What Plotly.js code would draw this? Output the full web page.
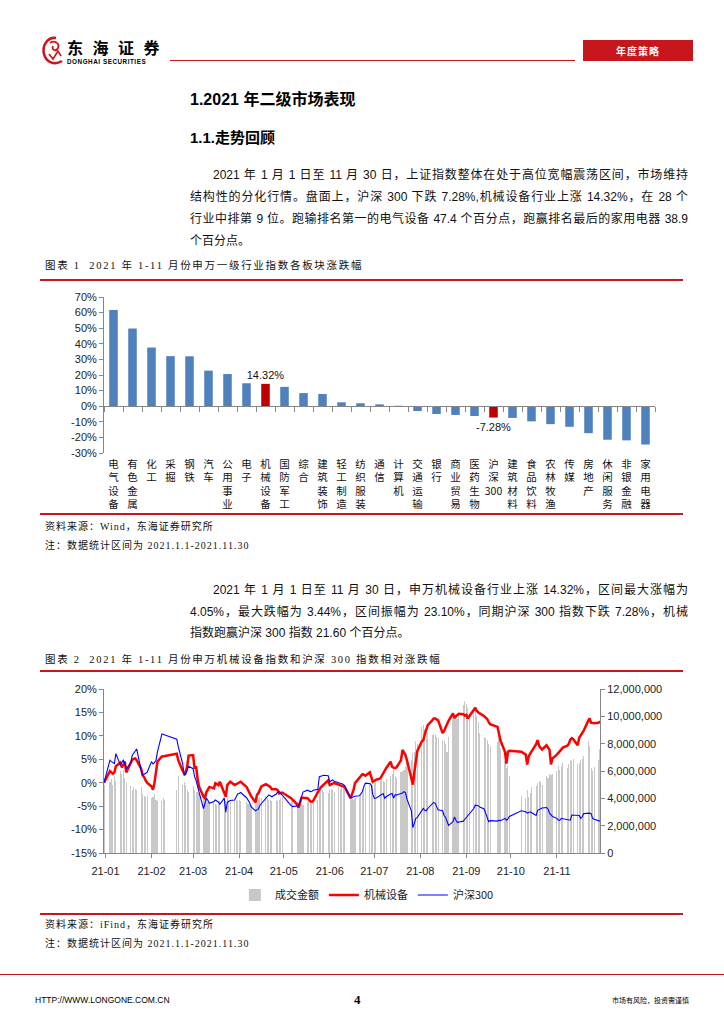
<!DOCTYPE html>
<html><head><meta charset="utf-8">
<script src="https://cdn.plot.ly/plotly-3.0.1.min.js"></script>
<style>
html,body{margin:0;padding:0;background:#fff;}
#page{position:relative;width:724px;height:1024px;overflow:hidden;font-family:"Liberation Sans","Noto Sans CJK SC",sans-serif;color:#000;}
.abs{position:absolute;white-space:nowrap;}
.rl{position:absolute;background:#c8161d;}
.p{position:absolute;left:190px;width:498px;font-size:12px;line-height:22px;height:22px;text-align:justify;text-align-last:justify;color:#111;}
.p.ind{left:213px;width:475px;}
.p.last{text-align-last:left;}
.cap{font-family:"Liberation Serif","Noto Sans CJK SC",serif;font-size:10.5px;letter-spacing:1.7px;line-height:14px;color:#111;}
.src{font-family:"Liberation Serif","Noto Sans CJK SC",serif;font-size:10px;letter-spacing:1px;line-height:14px;color:#111;}
</style></head>
<body>
<div id="page">
  <!-- header -->
  <svg class="abs" style="left:41px;top:35px" width="26" height="32" viewBox="0 0 26 32">
    <path d="M15 3 C6 2 1 11 3 19 C5 27 13 31 21 26" stroke="#c8161d" stroke-width="2.6" fill="none"/>
    <path d="M9 8 C13 5 19 8 17 13 C15 17 10 15 12 11" stroke="#c8161d" stroke-width="1.8" fill="none"/>
    <path d="M8 19 L12 24 L17 16 L20 21" stroke="#c8161d" stroke-width="1.6" fill="none"/>
  </svg>
  <div class="abs" style="left:67px;top:38px;font-family:'Noto Sans CJK SC';font-weight:bold;font-size:16px;letter-spacing:9.5px;line-height:18px;">东海证券</div>
  <div class="abs" style="left:67px;top:57.5px;font-weight:bold;font-size:6.3px;letter-spacing:0.55px;line-height:7px;">DONGHAI SECURITIES</div>
  <div class="rl" style="left:170px;top:60px;width:405px;height:1px;"></div>
  <div class="abs" style="left:583px;top:40px;width:110px;height:21px;background:#c8161d;color:#fff;text-align:center;font-family:'Noto Sans CJK SC';font-weight:bold;font-size:10px;line-height:21px;letter-spacing:1px;">年度策略</div>

  <div class="abs" style="left:190px;top:89px;font-weight:bold;font-size:16px;line-height:22px;">1.2021 年二级市场表现</div>
  <div class="abs" style="left:190px;top:127px;font-weight:bold;font-size:15px;line-height:22px;">1.1.走势回顾</div>

  <div class="p ind" style="top:164px;">2021 年 1 月 1 日至 11 月 30 日，上证指数整体在处于高位宽幅震荡区间，市场维持</div>
  <div class="p" style="top:186px;">结构性的分化行情。盘面上，沪深 300 下跌 7.28%,机械设备行业上涨 14.32%，在 28 个</div>
  <div class="p" style="top:208px;">行业中排第 9 位。跑输排名第一的电气设备 47.4 个百分点，跑赢排名最后的家用电器 38.9</div>
  <div class="p last" style="top:230px;">个百分点。</div>

  <div class="abs cap" style="left:45px;top:259px;">图表 1&nbsp; 2021 年 1-11 月份申万一级行业指数各板块涨跌幅</div>
  <div class="rl" style="left:40px;top:279px;width:643px;height:2px;"></div>
  <div id="chart1" class="abs" style="left:0;top:285px;width:724px;height:240px;"></div>
  <div class="rl" style="left:40px;top:513px;width:643px;height:2px;"></div>
  <div class="abs src" style="left:45px;top:520px;">资料来源：Wind，东海证券研究所</div>
  <div class="abs src" style="left:45px;top:539px;">注：数据统计区间为 2021.1.1-2021.11.30</div>

  <div class="p ind" style="top:579px;">2021 年 1 月 1 日至 11 月 30 日，申万机械设备行业上涨 14.32%，区间最大涨幅为</div>
  <div class="p" style="top:601px;">4.05%，最大跌幅为 3.44%，区间振幅为 23.10%，同期沪深 300 指数下跌 7.28%，机械</div>
  <div class="p last" style="top:622px;">指数跑赢沪深 300 指数 21.60 个百分点。</div>

  <div class="abs cap" style="left:45px;top:653px;">图表 2&nbsp; 2021 年 1-11 月份申万机械设备指数和沪深 300 指数相对涨跌幅</div>
  <div class="rl" style="left:40px;top:670px;width:643px;height:2px;"></div>
  <div id="chart2" class="abs" style="left:0;top:675px;width:724px;height:235px;"></div>
  <div class="rl" style="left:40px;top:913px;width:643px;height:2px;"></div>
  <div class="abs src" style="left:45px;top:918px;">资料来源：iFind，东海证券研究所</div>
  <div class="abs src" style="left:45px;top:937px;">注：数据统计区间为 2021.1.1-2021.11.30</div>

  <div class="rl" style="left:0;top:974px;width:724px;height:1px;"></div>
  <div class="abs" style="left:35px;top:994px;font-size:8.5px;line-height:12px;">HTTP://WWW.LONGONE.COM.CN</div>
  <div class="abs" style="left:354px;top:992px;font-family:'Liberation Serif';font-weight:bold;font-size:13px;line-height:16px;">4</div>
  <div class="abs" style="left:612px;top:995px;font-family:'Noto Sans CJK SC';font-size:7px;line-height:10px;">市场有风险，投资需谨慎</div>
</div>
<script>
// ---------- Chart 1 data ----------
const industries = ['电气设备','有色金属','化工','采掘','钢铁','汽车','公用事业','电子','机械设备','国防军工','综合','建筑装饰','轻工制造','纺织服装','通信','计算机','交通运输','银行','商业贸易','医药生物','沪深300','建筑材料','食品饮料','农林牧渔','传媒','房地产','休闲服务','非银金融','家用电器'];
const industryChange = [61.72,49.8,37.6,32.1,32.0,22.8,20.6,14.7,14.32,12.4,8.4,7.8,2.5,1.9,1.2,0.3,-3.1,-5.0,-5.6,-6.3,-7.28,-7.5,-9.7,-11.5,-13.2,-17.3,-21.5,-21.9,-24.58];
const highlighted = ['机械设备','沪深300'];
const pctTicks1 = [-30,-20,-10,0,10,20,30,40,50,60,70];

// ---------- Chart 2 data (trading days, 2021) ----------
const start00 = ['2020-12-31']; const mach00 = [0]; const hs00 = [0]; const vol00 = [5.0];
const days01 = [4,5,6,7,8,11,12,13,14,15,18,19,20,21,22,25,26,27,28,29];
const mach01 = [2.5,2.2,1.9,2.2,3.5,4.3,3.3,3.8,4.5,2.2,4.4,4.9,5.1,5.2,4.8,3.0,1.6,1.2,0.5,0.0];
const hs01   = [4.8,4.5,4.3,4.1,6.2,3.8,4.3,4.8,4.2,3.0,4.2,5.8,6.3,6.8,7.2,2.7,1.6,1.8,2.0,2.2];
const vol01  = [5.2,5.4,5.0,5.6,5.3,6.0,5.8,6.1,5.5,5.2,4.9,4.6,4.8,4.7,4.6,4.8,4.3,4.2,4.1,4.2];
const days02 = [1,2,3,4,5,8,9,10,18,19,22,23,24,25,26];
const mach02 = [-0.8,-1.5,0.0,2.0,4.5,5.6,5.6,5.7,6.2,4.8,2.5,2.0,2.2,3.5,5.8];
const hs02   = [4.5,4.0,4.3,4.8,6.6,10.4,10.3,10.2,9.3,7.7,4.0,1.6,1.8,2.7,3.5];
const vol02  = [4.0,4.1,4.3,3.9,3.8,3.8,4.0,3.9,4.6,5.6,5.0,5.2,5.0,4.6,4.5];
const days03 = [1,2,3,4,5,8,9,10,11,12,15,16,17,18,19,22,23,24,25,26,29,30,31];
const mach03 = [5.9,3.0,3.5,0.9,-0.8,-3.0,-3.3,-2.0,-1.5,-0.9,-1.2,-0.1,-0.3,-0.5,0.2,-2.3,-3.0,-0.5,-0.2,0.2,-0.5,-0.3,-0.1];
const hs03   = [3.0,1.3,0.5,-0.5,-2.0,-5.5,-4.5,-3.3,-3.8,-4.4,-4.0,-3.7,-3.9,-4.1,-4.6,-3.3,-6.3,-4.2,-4.0,-3.8,-3.7,-3.0,-2.4];
const vol03  = [4.9,4.6,4.5,4.5,4.4,4.3,4.4,3.9,3.7,3.6,3.7,3.6,3.5,3.6,3.8,3.7,3.8,4.0,3.9,3.7,3.8,3.9,3.8];
const days04 = [1,2,6,7,8,9,12,13,14,15,16,19,20,21,22,23,26,27,28,29,30];
const mach04 = [0.1,0.2,-0.9,-1.6,-2.3,-2.8,-4.2,-2.6,-2.2,-1.6,-0.8,-0.3,-0.5,-0.7,-0.9,-1.4,-1.4,-1.6,-2.3,-2.2,-2.1];
const hs04   = [-2.3,-2.1,-3.2,-3.7,-4.2,-5.1,-6.0,-5.8,-5.6,-4.8,-4.4,-3.4,-3.0,-2.6,-2.8,-3.0,-2.4,-2.0,-1.9,-2.3,-2.6];
const vol04  = [3.9,3.8,3.7,3.6,3.6,3.5,3.8,4.0,3.9,4.1,4.0,4.2,4.0,3.9,3.9,3.8,3.9,3.8,3.9,4.0,4.1];
const days05 = [6,7,10,11,12,13,14,17,18,19,20,21,24,25,26,27,28,31];
const mach05 = [-3.3,-3.6,-4.6,-5.3,-4.2,-3.2,-3.2,-3.3,-3.6,-4.0,-4.1,-3.8,-2.0,-1.4,-1.0,-0.7,-0.4,0.5];
const hs05   = [-4.9,-5.1,-5.0,-4.9,-4.1,-3.0,-2.0,-1.6,-1.7,-1.9,-1.8,-1.6,-1.4,1.3,1.4,1.5,1.6,1.5];
const vol05  = [4.0,3.8,3.7,3.6,3.7,3.6,3.5,3.8,3.9,3.7,3.6,3.8,3.9,4.5,4.7,4.6,4.5,4.4];
const days06 = [1,2,3,4,7,8,9,10,11,15,16,17,18,21,22,23,24,25,28,29,30];
const mach06 = [-0.5,-0.3,-0.2,-0.1,-0.4,-0.5,-0.6,-0.7,-0.9,-3.3,-2.6,-1.6,-0.1,1.2,1.6,1.8,1.7,1.5,2.2,1.3,0.2];
const hs06   = [0.2,0.4,0.6,0.3,-0.1,-0.1,-0.2,-0.3,-0.6,-3.2,-3.1,-3.0,-2.9,-2.8,-2.3,-1.9,-0.8,-0.1,-0.2,-0.5,-2.5];
const vol06  = [4.6,4.7,4.6,4.5,4.8,4.7,4.9,4.8,4.6,4.1,4.0,3.9,4.0,4.1,4.3,4.6,4.7,4.8,5.0,4.9,5.0];
const days07 = [1,2,5,6,7,8,9,12,13,14,15,16,19,20,21,22,23,26,27,28,29,30];
const mach07 = [0.4,0.6,0.9,1.5,2.0,2.6,3.1,4.5,3.4,3.2,3.1,3.3,4.8,7.0,6.5,5.9,4.8,0.8,-0.4,2.3,5.2,6.8];
const hs07   = [-3.3,-3.3,-2.7,-2.5,-2.3,-3.3,-3.0,-2.4,-2.3,-3.3,-2.6,-2.6,-2.3,-2.2,-1.9,-2.1,-3.5,-6.0,-9.6,-8.6,-7.6,-7.4];
const vol07  = [5.1,5.2,5.3,5.4,5.3,5.2,5.4,5.6,5.8,6.1,5.6,5.5,5.9,6.0,6.1,6.3,6.6,6.8,7.3,7.4,8.2,8.0];
const days08 = [2,3,4,5,6,9,10,11,12,13,16,17,18,19,20,23,24,25,26,27,30,31];
const mach08 = [8.8,9.1,10.3,11.5,12.3,13.3,13.7,13.7,13.5,13.3,10.6,11.0,11.8,12.5,13.2,14.8,13.8,14.2,14.5,14.7,14.6,14.3];
const hs08   = [-5.8,-5.5,-5.9,-6.0,-5.5,-4.6,-4.2,-4.4,-5.2,-5.8,-6.0,-7.0,-7.4,-8.2,-9.1,-8.3,-7.3,-8.0,-8.5,-8.4,-8.2,-7.8];
const vol08  = [9.2,9.4,9.1,8.9,8.8,8.6,8.7,8.6,8.5,8.4,8.3,8.2,8.0,7.4,8.5,9.9,10.0,10.1,9.8,10.2,10.8,11.1];
const days09 = [1,2,3,6,7,8,9,10,13,14,15,16,17,22,23,24,27,28,29,30];
const mach09 = [14.5,13.7,14.2,15.5,16.0,15.3,15.0,14.8,14.2,13.9,13.6,13.0,12.5,11.9,10.5,9.0,6.6,4.1,6.6,6.8];
const hs09   = [-7.4,-7.0,-6.8,-5.5,-4.8,-4.8,-4.9,-5.2,-5.6,-6.5,-7.5,-8.3,-8.1,-8.2,-8.0,-8.1,-7.6,-8.0,-7.7,-7.2];
const vol09  = [10.9,10.6,10.2,10.3,10.5,10.0,9.6,8.8,8.5,8.4,8.3,8.0,7.8,8.1,8.4,7.6,6.7,6.2,6.4,5.6];
const days10 = [8,11,12,13,14,15,18,19,20,21,22,25,26,27,28,29];
const mach10 = [6.6,6.0,3.9,5.6,6.2,6.7,8.2,9.1,7.9,7.4,7.1,8.0,7.6,7.0,3.9,5.2];
const hs10   = [-6.0,-6.2,-6.5,-6.3,-6.2,-6.4,-7.0,-5.9,-5.7,-5.5,-5.4,-5.3,-5.6,-6.5,-6.9,-7.2];
const vol10  = [4.2,4.0,4.6,4.1,4.4,4.8,4.9,5.1,5.3,5.2,5.0,5.6,5.5,5.8,5.7,5.8];
const days11 = [1,2,3,4,5,8,9,10,11,12,15,16,17,18,19,22,23,24,25,26,29,30];
const mach11 = [6.0,6.4,6.9,7.3,7.5,7.9,8.3,9.2,9.5,9.3,8.0,9.6,10.1,10.7,11.1,13.2,13.7,12.8,12.7,12.7,12.8,13.1];
const hs11   = [-7.6,-8.0,-8.0,-7.6,-7.7,-7.8,-7.9,-8.0,-6.9,-6.9,-6.9,-7.0,-7.6,-7.3,-6.6,-6.5,-6.5,-6.6,-7.6,-7.8,-8.0,-8.2];
const vol11  = [6.0,6.4,6.1,6.4,6.6,6.2,6.5,6.8,6.7,6.9,6.5,6.6,6.8,6.9,7.1,8.2,7.8,6.2,6.0,6.3,6.8,7.6];
const pctTicks2 = [-15,-10,-5,0,5,10,15,20];
const volTicks = [0,2000000,4000000,6000000,8000000,10000000,12000000];

// ---------- assemble ----------
const pad = n => (n < 10 ? '0' : '') + n;
const monthDays = [days01,days02,days03,days04,days05,days06,days07,days08,days09,days10,days11];
const dates = start00.slice();
monthDays.forEach((ds, m) => ds.forEach(d => dates.push('2021-' + pad(m + 1) + '-' + pad(d))));
const mach = mach00.concat(mach01,mach02,mach03,mach04,mach05,mach06,mach07,mach08,mach09,mach10,mach11);
const hs300 = hs00.concat(hs01,hs02,hs03,hs04,hs05,hs06,hs07,hs08,hs09,hs10,hs11);
const volM = vol00.concat(vol01,vol02,vol03,vol04,vol05,vol06,vol07,vol08,vol09,vol10,vol11);
const volume = volM.map(v => v * 1e6);

const FONT = 'Liberation Sans, Noto Sans CJK SC, sans-serif';
const AX = '#868686';
const cfg = {displayModeBar:false, staticPlot:true};

// ---------- Chart 1 ----------
const stacked = industries.map(c => c.match(/[0-9]+|./g).join('<br>'));
const colors1 = industries.map(c => highlighted.includes(c) ? '#c00000' : '#4f81bd');
const labels1 = industries.map((c,i) => highlighted.includes(c) ? industryChange[i].toFixed(2) + '%' : '');
Plotly.newPlot('chart1', [
  {type:'bar', x:industries, y:industryChange, marker:{color:colors1}, width:0.45,
   text:labels1, textposition:'outside', constraintext:'none', cliponaxis:false,
   textfont:{family:FONT, size:11, color:'#111'}, hoverinfo:'skip'},
  {type:'scatter', x:industries, y:industryChange, xaxis:'x2', mode:'none', showlegend:false, hoverinfo:'skip'}
], {
  width:724, height:240, margin:{l:104, r:69, t:12, b:72, autoexpand:false},
  paper_bgcolor:'rgba(0,0,0,0)', plot_bgcolor:'rgba(0,0,0,0)', showlegend:false,
  font:{family:FONT, size:11, color:'#222'},
  xaxis:{type:'category', tickvals:industries, ticktext:stacked, showline:false, ticks:'', showgrid:false,
         tickfont:{family:'Noto Sans CJK SC', size:10.5, color:'#111'}, automargin:false, tickangle:0, ticklabelstandoff:3},
  xaxis2:{type:'category', overlaying:'x', matches:'x', anchor:'free', position:0.3, showline:true, linecolor:AX,
          ticks:'outside', ticklen:5, tickcolor:AX, tickson:'boundaries', showticklabels:false, showgrid:false},
  yaxis:{range:[-30,70], tickvals:pctTicks1, ticktext:pctTicks1.map(v => v + '%'), showgrid:false, zeroline:false,
         showline:true, linecolor:AX, ticks:'outside', ticklen:4, tickcolor:AX,
         tickfont:{family:FONT, size:11, color:'#222'}, automargin:false}
}, cfg);

// ---------- Chart 2 ----------
Plotly.newPlot('chart2', [
  {type:'bar', name:'成交金额', x:dates, y:volume, yaxis:'y', marker:{color:'#c8c8c8'}, width:0.75*86400000, hoverinfo:'skip'},
  {type:'scatter', mode:'lines', name:'机械设备', x:dates, y:mach, yaxis:'y2', line:{color:'#ff0000', width:2.5}, hoverinfo:'skip'},
  {type:'scatter', mode:'lines', name:'沪深300', x:dates, y:hs300, yaxis:'y2', line:{color:'#0000ff', width:1.1}, hoverinfo:'skip'}
], {
  width:724, height:235, margin:{l:104, r:124, t:14, b:57, autoexpand:false},
  paper_bgcolor:'rgba(0,0,0,0)', plot_bgcolor:'rgba(0,0,0,0)',
  font:{family:FONT, size:11, color:'#222'}, bargap:0,
  xaxis:{type:'date', range:['2020-12-31','2021-11-30'], tick0:'2021-01-01', dtick:'M1', tickformat:'%y-%m',
         ticks:'outside', ticklen:4, tickcolor:AX, showline:true, linecolor:AX, showgrid:false,
         tickfont:{family:FONT, size:11, color:'#222'}, automargin:false, ticklabelstandoff:4},
  yaxis:{side:'right', range:[0,12000000], tickvals:volTicks, ticktext:volTicks.map(v => v.toLocaleString('en-US')),
         showline:true, linecolor:AX, ticks:'outside', ticklen:4, tickcolor:AX, showgrid:false, zeroline:false,
         tickfont:{family:FONT, size:11, color:'#222'}, automargin:false},
  yaxis2:{overlaying:'y', side:'left', range:[-15,20], tickvals:pctTicks2, ticktext:pctTicks2.map(v => v + '%'),
          showline:true, linecolor:AX, ticks:'outside', ticklen:4, tickcolor:AX, showgrid:false, zeroline:false,
          tickfont:{family:FONT, size:11, color:'#222'}, automargin:false},
  legend:{orientation:'h', x:0.53, xanchor:'center', y:-0.256, yanchor:'middle',
          font:{family:'Noto Sans CJK SC', size:11, color:'#222'}, itemwidth:30}
}, cfg);
</script>
</body></html>
